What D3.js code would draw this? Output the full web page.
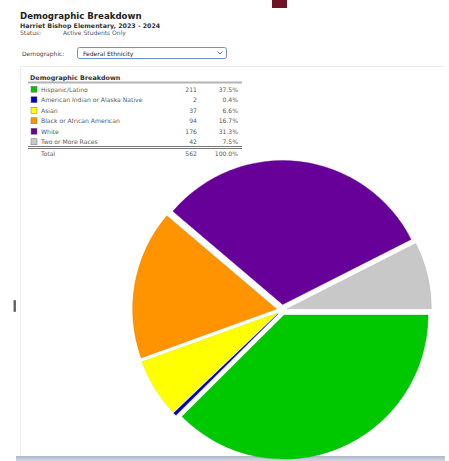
<!DOCTYPE html>
<html><head><meta charset="utf-8">
<script src="https://cdn.jsdelivr.net/npm/d3@7"></script>
<style>
html,body{margin:0;padding:0;background:#fff;}
svg{display:block;}
text{font-family:"DejaVu Sans",Verdana,sans-serif;}
</style></head>
<body>
<svg id="c" width="449" height="461"></svg>
<script>
const categories = ["Hispanic/Latino","American Indian or Alaska Native","Asian","Black or African American","White","Two or More Races"];
const counts = [211, 2, 37, 94, 176, 42];
const percents = ["37.5%","0.4%","6.6%","16.7%","31.3%","7.5%"];
const colors = ["#00c800","#0000c8","#ffff00","#ff9400","#660099","#c8c8c8"];
const totalLabel = "Total";
const totalCount = 562;
const totalPercent = "100.0%";

const svg = d3.select("#c");

// maroon marker at top
svg.append("rect").attr("x",272).attr("y",0).attr("width",15).attr("height",8).attr("fill","#6e1427");

// header texts
svg.append("text").attr("x",20).attr("y",19).attr("font-size",8.6).attr("font-weight","bold").attr("fill","#222").text("Demographic Breakdown");
svg.append("text").attr("x",20).attr("y",27.5).attr("font-size",6.3).attr("font-weight","bold").attr("fill","#333").text("Harriet Bishop Elementary, 2023 - 2024");
svg.append("text").attr("x",20).attr("y",35).attr("font-size",6).attr("fill","#555").text("Status:");
svg.append("text").attr("x",63).attr("y",35).attr("font-size",6).attr("fill","#555").text("Active Students Only");
svg.append("text").attr("x",22).attr("y",55.5).attr("font-size",6).attr("fill","#444").text("Demographic:");
svg.append("rect").attr("x",77.5).attr("y",47.5).attr("width",149).attr("height",11).attr("rx",2)
  .attr("fill","#fff").attr("stroke","#6f8fce").attr("stroke-width",1);
svg.append("text").attr("x",83).attr("y",55.5).attr("font-size",6).attr("fill","#222").text("Federal Ethnicity");
svg.append("path").attr("d","M217.5,51.5 L220,54 L222.5,51.5").attr("fill","none").attr("stroke","#555").attr("stroke-width",0.9);

// panel frame
svg.append("line").attr("x1",20).attr("x2",445).attr("y1",66.5).attr("y2",66.5).attr("stroke","#ececec");
svg.append("line").attr("x1",20.5).attr("x2",20.5).attr("y1",66).attr("y2",456).attr("stroke","#ececec");
const grad = svg.append("defs").append("linearGradient").attr("id","bb").attr("x1",0).attr("x2",0).attr("y1",0).attr("y2",1);
grad.append("stop").attr("offset","0%").attr("stop-color","#aeb6c8");
grad.append("stop").attr("offset","100%").attr("stop-color","#d4d8e2");
svg.append("rect").attr("x",16).attr("y",456).attr("width",429).attr("height",5).attr("fill","url(#bb)");
// small left marker
svg.append("rect").attr("x",13.5).attr("y",300).attr("width",2.5).attr("height",12).attr("rx",1).attr("fill","#666");

// legend table
const lg = svg.append("g");
lg.append("text").attr("x",30).attr("y",80).attr("font-size",6.4).attr("font-weight","bold").attr("fill","#333").text("Demographic Breakdown");
lg.append("rect").attr("x",28).attr("y",81.5).attr("width",214).attr("height",2).attr("fill","#b4b4b4");
const rowY = d3.scaleBand().domain(d3.range(categories.length)).range([84, 147]);
const rows = lg.selectAll("g.row").data(categories).join("g").attr("class","row")
  .attr("transform",(d,i)=>`translate(0,${rowY(i)+rowY.bandwidth()/2})`);
rows.append("rect").attr("x",31).attr("y",-3).attr("width",6).attr("height",6)
  .attr("fill",(d,i)=>colors[i]).attr("stroke","#777").attr("stroke-width",0.5);
rows.append("text").attr("x",41).attr("y",2.3).attr("font-size",6.1).attr("fill","#5a5a5a").text(d=>d);
rows.append("text").attr("x",197).attr("y",2.3).attr("font-size",6.1).attr("fill","#5a5a5a").attr("text-anchor","end").text((d,i)=>counts[i]);
rows.append("text").attr("x",238).attr("y",2.3).attr("font-size",6.1).attr("fill","#5a5a5a").attr("text-anchor","end").text((d,i)=>percents[i]);
lg.append("line").attr("x1",28).attr("x2",242).attr("y1",146.5).attr("y2",146.5).attr("stroke","#555").attr("stroke-width",0.8);
lg.append("line").attr("x1",28).attr("x2",242).attr("y1",148.5).attr("y2",148.5).attr("stroke","#555").attr("stroke-width",0.8);
lg.append("text").attr("x",41).attr("y",155.8).attr("font-size",6.1).attr("fill","#5a5a5a").text(totalLabel);
lg.append("text").attr("x",197).attr("y",155.8).attr("font-size",6.1).attr("fill","#5a5a5a").attr("text-anchor","end").text(totalCount);
lg.append("text").attr("x",238).attr("y",155.8).attr("font-size",6.1).attr("fill","#5a5a5a").attr("text-anchor","end").text(totalPercent);

// pie
const cx = 282, cy = 310, R = 144, off = 5.5;
const pie = d3.pie().sort(null).value(d=>d).startAngle(Math.PI/2).endAngle(Math.PI/2 + 2*Math.PI);
const arc = d3.arc().innerRadius(0).outerRadius(R);
const arcs = pie(counts);
const pg = svg.append("g").attr("transform",`translate(${cx},${cy})`);
pg.selectAll("path").data(arcs).join("path")
  .attr("d",arc)
  .attr("fill",(d,i)=>colors[i])
  .attr("stroke",(d,i)=>d3.color(colors[i]).darker(0.4))
  .attr("stroke-width",0.4)
  .attr("transform",d=>{const m=(d.startAngle+d.endAngle)/2; return `translate(${Math.sin(m)*off},${-Math.cos(m)*off})`;});
</script>
</body></html>
